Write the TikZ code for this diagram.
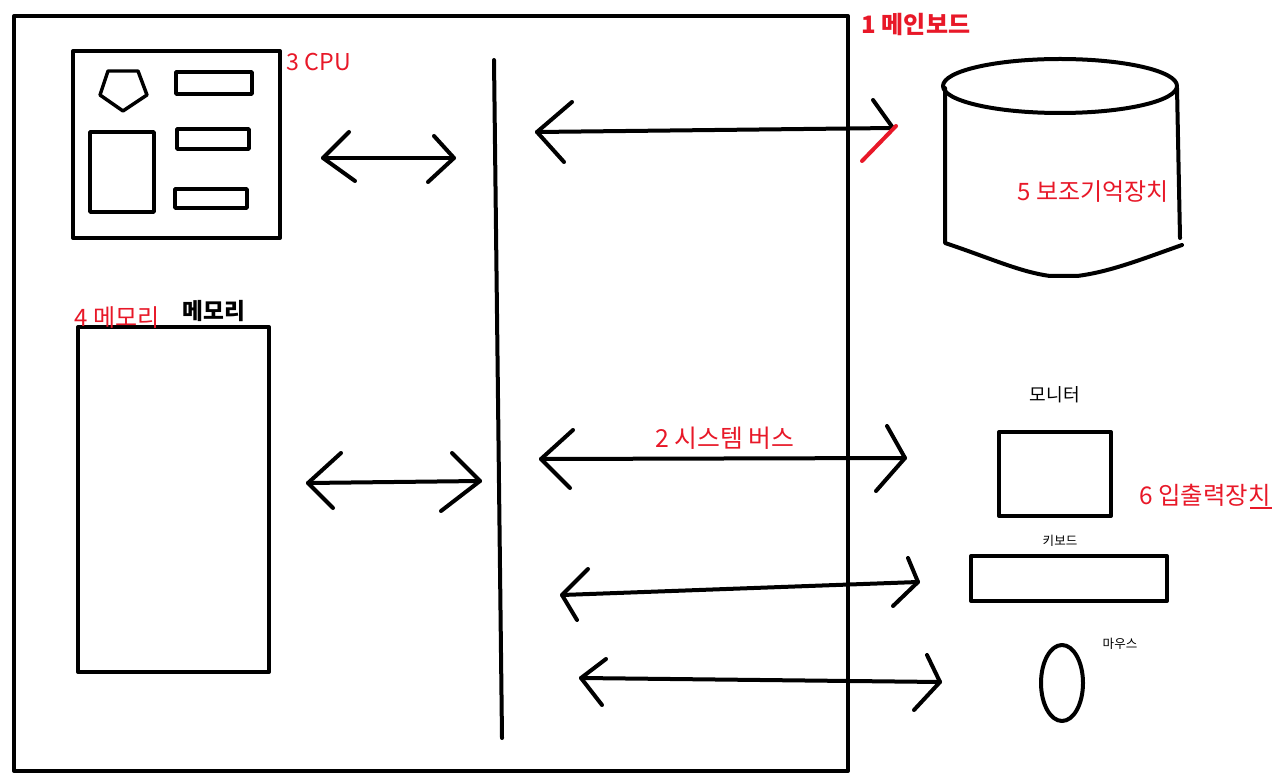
\documentclass[tikz,border=0pt]{standalone}
\usepackage{fontspec}
\setmainfont{Noto Sans CJK KR}
\usetikzlibrary{fit}
\definecolor{mred}{RGB}{232,24,40}
\begin{document}
\begin{tikzpicture}[x=0.75pt,y=-0.75pt,line join=round,line cap=round,
  ink/.style={line width=3pt,black},
  inkthin/.style={line width=2.6pt,black},
  box/.style={draw,line width=3pt,inner sep=0pt},
  redlabel/.style={text=mred,inner sep=0pt,font=\fontsize{18}{21}\selectfont},
  blacklabel/.style={text=black,inner sep=0pt},
  dbl/.style={line width=3pt,black}]
\useasboundingbox (0,0) rectangle (1280,780);
\fill[white] (0,0) rectangle (1280,780);

% main board
\node[box,fit={(14,16)(848,771)}] (board) {};
\node[redlabel,font=\fontsize{18}{21}\selectfont\bfseries] (boardlbl) at (916,25) {1 메인보드};

% CPU
\node[box,fit={(73,51)(280,238)}] (cpu) {};
\draw[inkthin] (108,71) -- (138,71) -- (147,95) -- (123,111) -- (100,95) -- cycle;
\node[box,line width=2.6pt,fit={(176,72)(252,94)}] (cpuA) {};
\node[box,line width=2.6pt,fit={(90,132)(154,212)}] (cpuB) {};
\node[box,line width=2.6pt,fit={(177,129)(249,149)}] (cpuC) {};
\node[box,line width=2.6pt,fit={(175,189)(247,208)}] (cpuD) {};
\node[redlabel,font=\fontsize{17.4}{20}\selectfont] (cpulbl) at (319,62) {3 CPU};

% memory
\node[box,fit={(78,327)(269,672)}] (mem) {};
\node[redlabel] (memlbl) at (117,318) {4 메모리};
\node[blacklabel,font=\fontsize{17}{20}\selectfont\bfseries] (memtitle) at (214,311) {메모리};

% bus
\coordinate (busT) at (494,60);
\coordinate (busB) at (502,738);
\draw[ink] (busT) -- (busB);

% arrow CPU <-> bus
\coordinate (a1L) at (323,158); \coordinate (a1R) at (454,158);
\draw[dbl] (a1L) -- (a1R);
\draw[dbl] (349,132) -- (a1L) -- (355,181);
\draw[dbl] (434,136) -- (a1R) -- (428,182);

% arrow memory <-> bus
\coordinate (a2L) at (308,483); \coordinate (a2R) at (480,481);
\draw[dbl] (a2L) -- (a2R);
\draw[dbl] (341,453) -- (a2L) -- (333,508);
\draw[dbl] (452,453) -- (a2R) -- (441,511);

% arrow bus <-> storage
\coordinate (a3L) at (537,132); \coordinate (a3R) at (893,128);
\draw[dbl] (a3L) -- (a3R);
\draw[dbl] (572,102) -- (a3L) -- (564,162);
\draw[dbl] (873,100) -- (a3R);
\draw[line width=3pt,mred] (862,161) -- (896,126);

% arrow bus <-> monitor
\coordinate (a4L) at (541,459); \coordinate (a4R) at (905,458);
\draw[dbl] (a4L) -- (a4R);
\draw[dbl] (573,430) -- (a4L) -- (570,488);
\draw[dbl] (887,426) -- (a4R) -- (876,491);
\node[redlabel,font=\fontsize{18.6}{21}\selectfont] (buslbl) at (725,438) {2 시스템 버스};

% arrow bus <-> keyboard
\coordinate (a5L) at (562,595); \coordinate (a5R) at (918,582);
\draw[dbl] (a5L) -- (a5R);
\draw[dbl] (588,569) -- (a5L) -- (577,620);
\draw[dbl] (908,558) -- (a5R) -- (893,606);

% arrow bus <-> mouse
\coordinate (a6L) at (581,678); \coordinate (a6R) at (940,682);
\draw[dbl] (a6L) -- (a6R);
\draw[dbl] (606,659) -- (a6L) -- (602,705);
\draw[dbl] (927,655) -- (a6R) -- (914,710);

% storage cylinder
\draw[ink] (1060,86) ellipse [x radius=117, y radius=27];
\draw[ink] (945,88) -- (945,243) .. controls (990,258) and (1020,272) .. (1050,276) -- (1077,276) .. controls (1110,272) and (1145,258) .. (1182,245);
\draw[ink] (1177,88) -- (1180,238);
\node[redlabel] (disklbl) at (1093,192) {5 보조기억장치};

% I/O devices
\node[box,fit={(999,432)(1111,516)}] (monitor) {};
\node[blacklabel,font=\fontsize{13.6}{16}\selectfont] (monlbl) at (1055,395) {모니터};
\node[box,fit={(971,556)(1167,601)}] (keyboard) {};
\node[blacklabel,font=\fontsize{9.4}{11}\selectfont] (kbdlbl) at (1060,541) {키보드};
\draw[ink] (1062,683) ellipse [x radius=21, y radius=38];
\node[blacklabel,font=\fontsize{9.4}{11}\selectfont] (mouselbl) at (1120,644) {마우스};
\node[redlabel,font=\fontsize{18.3}{21}\selectfont] (iolbl) at (1205,495) {6 입출력장치};
\draw[line width=1.5pt,mred,line cap=butt] (1250,508) -- (1272,508);
\end{tikzpicture}
\end{document}
